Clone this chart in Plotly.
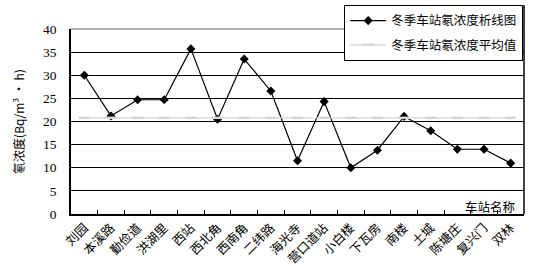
import plotly.graph_objects as go

stations = ["刘园", "本溪路", "勤俭道", "洪湖里", "西站", "西北角", "西南角", "二纬路", "海光寺",
            "营口道站", "小白楼", "下瓦房", "南楼", "土城", "陈塘庄", "复兴门", "双林"]
radon = [30.0, 21.2, 24.7, 24.7, 35.7, 20.5, 33.5, 26.6, 11.5, 24.3, 10.0, 13.8, 21.1, 18.0, 14.0, 14.0, 11.0]
radon_avg = [20.8, 20.8, 20.8, 20.8, 20.8, 20.8, 20.8, 20.8, 20.8, 20.8, 20.8, 20.8, 20.8, 20.8, 20.8, 20.8, 20.8]
y_ticks = [0, 5, 10, 15, 20, 25, 30, 35, 40]

SERIF = "Liberation Serif, Noto Sans CJK SC, serif"
CJK = "Noto Sans CJK SC, Liberation Serif, serif"

fig = go.Figure()
fig.add_trace(go.Scatter(
    x=stations, y=radon, mode="lines+markers", name="冬季车站氡浓度析线图",
    legendgroup="a",
    line=dict(color="black", width=1.2),
    marker=dict(symbol="diamond", size=7, color="black"),
))
fig.add_trace(go.Scatter(
    x=stations, y=radon_avg, mode="lines+markers", name="冬季车站氡浓度平均值",
    legendgroup="b",
    line=dict(color="#d6d6d6", width=1.2),
    marker=dict(symbol="line-ew-open", size=8, line=dict(color="#b4b4b4", width=2.5)),
))

fig.update_layout(
    width=539, height=266,
    margin=dict(l=71, r=15, t=29, b=52, autoexpand=False),
    paper_bgcolor="white", plot_bgcolor="white",
    font=dict(family=CJK, color="black", size=12),
    showlegend=True,
    legend=dict(
        x=0.603, y=1.13, xanchor="left", yanchor="top",
        bordercolor="black", borderwidth=1, bgcolor="white",
        font=dict(family=CJK, size=12.5, color="black"),
        tracegroupgap=5, itemwidth=36,
    ),
    xaxis=dict(
        type="category", tickson="boundaries", ticks="inside", ticklen=4,
        tickcolor="black", tickwidth=1.2, showgrid=False,
        showline=True, linecolor="black", linewidth=1.5,
        tickangle=-45, tickfont=dict(family=CJK, size=12.5, color="black"),
        range=[-0.5, len(stations) - 0.5],
    ),
    yaxis=dict(
        range=[0, 40], tickvals=y_ticks, showgrid=True, gridcolor="black", gridwidth=1.3,
        showline=True, linecolor="black", linewidth=1.5, zeroline=False,
        ticks="", ticklabelstandoff=10, tickfont=dict(family=SERIF, size=13.5, color="black"),
        title=dict(text="氡浓度(Bq/m³ • h)", font=dict(family=CJK, size=12, color="black"), standoff=16),
    ),
    shapes=[
        dict(type="line", xref="paper", yref="paper", x0=0, x1=1, y0=1, y1=1,
             line=dict(color="#9a9a9a", width=1.5), layer="above"),
        dict(type="line", xref="paper", yref="paper", x0=1, x1=1, y0=0, y1=1.13,
             line=dict(color="black", width=1.5), layer="above"),
    ],
    annotations=[
        dict(text="车站名称", xref="paper", yref="paper", x=0.985, y=0.0, xanchor="right", yanchor="bottom",
             yshift=-4, showarrow=False, font=dict(family=CJK, size=12.5, color="black")),
    ],
)

fig.write_html("out.html", config={"displayModeBar": False},
               post_script="document.body.style.margin='0px';")
